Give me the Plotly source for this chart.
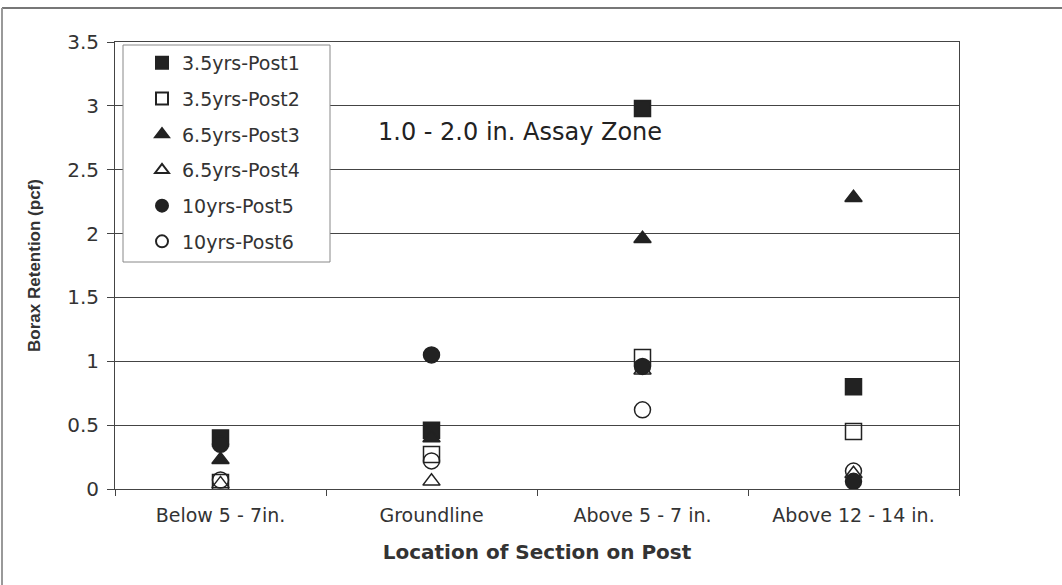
import plotly.graph_objects as go

categories = ["Below 5 - 7in.", "Groundline", "Above 5 - 7 in.", "Above 12 - 14 in."]
series_names = ["3.5yrs-Post1", "3.5yrs-Post2", "6.5yrs-Post3", "6.5yrs-Post4", "10yrs-Post5", "10yrs-Post6"]
post1 = [0.40, 0.46, 2.98, 0.80]
post2 = [0.05, 0.27, 1.03, 0.45]
post3 = [0.23, 0.40, 1.96, 2.28]
post4 = [0.04, 0.06, 0.93, 0.12]
post5 = [0.35, 1.05, 0.96, 0.06]
post6 = [0.07, 0.22, 0.62, 0.14]
values = [post1, post2, post3, post4, post5, post6]
symbols = ["square", "square-open", "triangle-up", "triangle-up-open", "circle", "circle-open"]
sizes = [16, 16, 15, 15, 16, 16]

W, H = 1062, 585
L, R, T, B = 115, 103, 42, 96
pw, ph = W - L - R, H - T - B

FONT = "DejaVu Sans, Verdana, sans-serif"

fig = go.Figure()
for i, (name, vals) in enumerate(zip(series_names, values)):
    fig.add_trace(go.Scatter(
        x=categories, y=vals, name=name, mode="markers",
        legendgroup=f"g{i}",
        marker=dict(symbol=symbols[i], size=sizes[i], color="#222222",
                    line=dict(color="#222222", width=1.5)),
    ))

def px2x(p):
    return (p - L) / pw

def px2y(p):
    return (H - B - p) / ph

fig.update_layout(
    width=W, height=H,
    margin=dict(l=L, r=R, t=T, b=B, autoexpand=False),
    paper_bgcolor="white", plot_bgcolor="white",
    font=dict(family=FONT, color="#333333"),
    showlegend=True,
    legend=dict(
        x=px2x(142), y=px2y(44), xanchor="left", yanchor="top",
        bgcolor="rgba(0,0,0,0)", borderwidth=0,
        font=dict(size=19, color="#333333", family=FONT),
        traceorder="grouped", tracegroupgap=8,
        itemsizing="constant",
    ),
    xaxis=dict(
        type="category", categoryorder="array", categoryarray=categories,
        range=[-0.5, 3.5],
        showline=True, linecolor="#444444", linewidth=1, mirror=True,
        ticks="outside", tickson="boundaries", ticklen=6, tickcolor="#444444",
        ticklabelstandoff=9,
        showgrid=False, tickfont=dict(size=19, color="#333333"),
        title=dict(text="<b>Location of Section on Post</b>",
                   font=dict(size=20, color="#333333"), standoff=20),
    ),
    yaxis=dict(
        range=[0, 3.5], dtick=0.5,
        showline=True, linecolor="#444444", linewidth=1, mirror=True,
        ticks="outside", ticklen=7, tickcolor="#444444",
        ticklabelstandoff=4,
        showgrid=True, gridcolor="#444444", gridwidth=1,
        zeroline=False,
        tickfont=dict(size=20, color="#333333"),
        title=dict(text="<b>Borax Retention (pcf)</b>",
                   font=dict(size=17, color="#333333", family="Liberation Sans, Arial, sans-serif"),
                   standoff=22),
    ),
    annotations=[dict(
        text="1.0 - 2.0 in. Assay Zone", xref="paper", yref="paper",
        x=px2x(520), y=px2y(132), xanchor="center", yanchor="middle",
        showarrow=False, font=dict(size=24, color="#222222", family=FONT),
    )],
    shapes=[
        dict(type="rect", xref="paper", yref="paper",
             x0=px2x(123), x1=px2x(330), y0=px2y(45), y1=px2y(262),
             line=dict(color="#888888", width=1), fillcolor="white", layer="above"),
        dict(type="line", xref="paper", yref="paper", x0=px2x(2), x1=px2x(1062), y0=px2y(8), y1=px2y(8),
             line=dict(color="#777777", width=2)),
        dict(type="line", xref="paper", yref="paper", x0=px2x(2), x1=px2x(2), y0=px2y(8), y1=px2y(585),
             line=dict(color="#999999", width=2)),
    ],
)

fig.write_html("out.html", config={"displayModeBar": False},
               post_script="document.body.style.margin='0';")
